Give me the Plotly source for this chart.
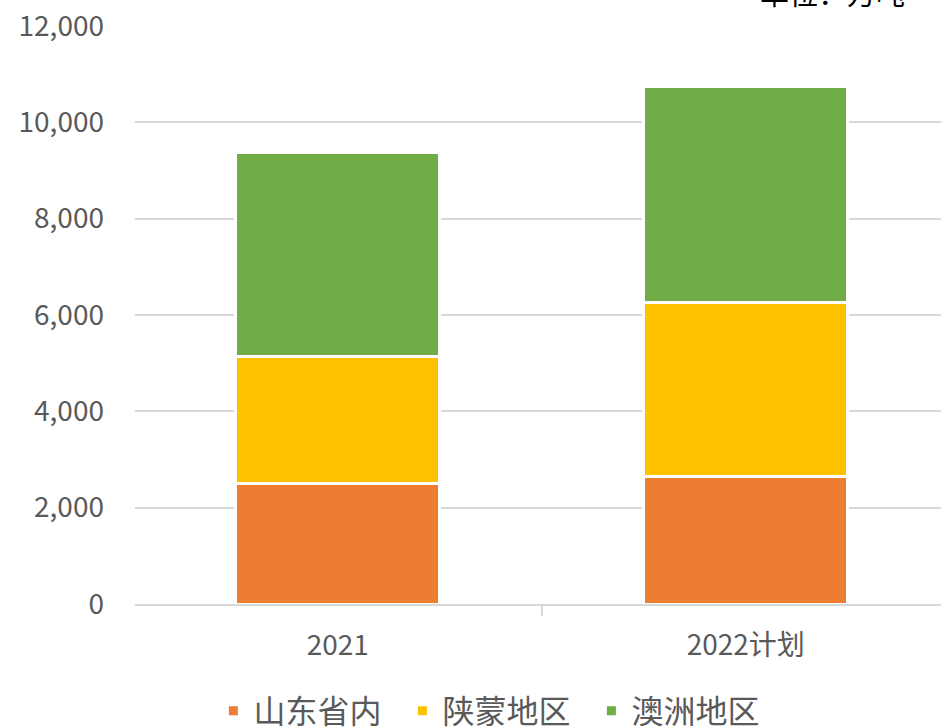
import plotly.graph_objects as go

categories = ["2021", "2022计划"]
series_names = ["山东省内", "陕蒙地区", "澳洲地区"]
shandong = [2500, 2640]
shanmeng = [2635, 3615]
aozhou = [4230, 4490]
colors = ["#ED7D31", "#FFC000", "#70AD47"]
y_ticks = [0, 2000, 4000, 6000, 8000, 10000, 12000]

FONT = "Noto Sans CJK SC"
fig = go.Figure()
for name, vals, col in zip(series_names, [shandong, shanmeng, aozhou], colors):
    fig.add_trace(go.Bar(
        x=categories, y=vals, name=name, width=0.5,
        marker=dict(color=col, line=dict(color="white", width=3)),
    ))

fig.update_layout(
    barmode="stack",
    width=941, height=727,
    margin=dict(l=135, r=0, t=26, b=123, autoexpand=False),
    paper_bgcolor="white", plot_bgcolor="white",
    font=dict(family=FONT, color="#595959", size=28),
    showlegend=True,
    legend=dict(orientation="h", x=0.449, xref="paper", xanchor="center",
                y=-0.185, yanchor="middle", font=dict(size=32, color="#595959"),
                itemwidth=30, traceorder="normal",
                entrywidth=144, entrywidthmode="pixels"),
    xaxis=dict(range=[-0.497, 1.4785], showline=True, linecolor="#d9d9d9", linewidth=1.5,
               ticks="outside", tickson="boundaries", ticklen=10, tickcolor="#d9d9d9",
               tickwidth=1.5, ticklabelstandoff=16, showgrid=False, fixedrange=True,
               automargin=False),
    yaxis=dict(range=[0, 12000], tickvals=y_ticks, tickformat=",", showgrid=True,
               gridcolor="#d9d9d9", gridwidth=1.5, zeroline=False, showline=False,
               ticks="", ticklabelstandoff=30, fixedrange=True, automargin=False),
)
fig.add_annotation(text="单位：万吨", xref="paper", yref="paper", x=0.958, y=1.0,
                   xanchor="right", yanchor="bottom", yshift=11, showarrow=False,
                   font=dict(size=29, color="#000000", family=FONT))
fig.write_html("out.html", config={"displayModeBar": False},
               post_script="document.body.style.margin='0';")
